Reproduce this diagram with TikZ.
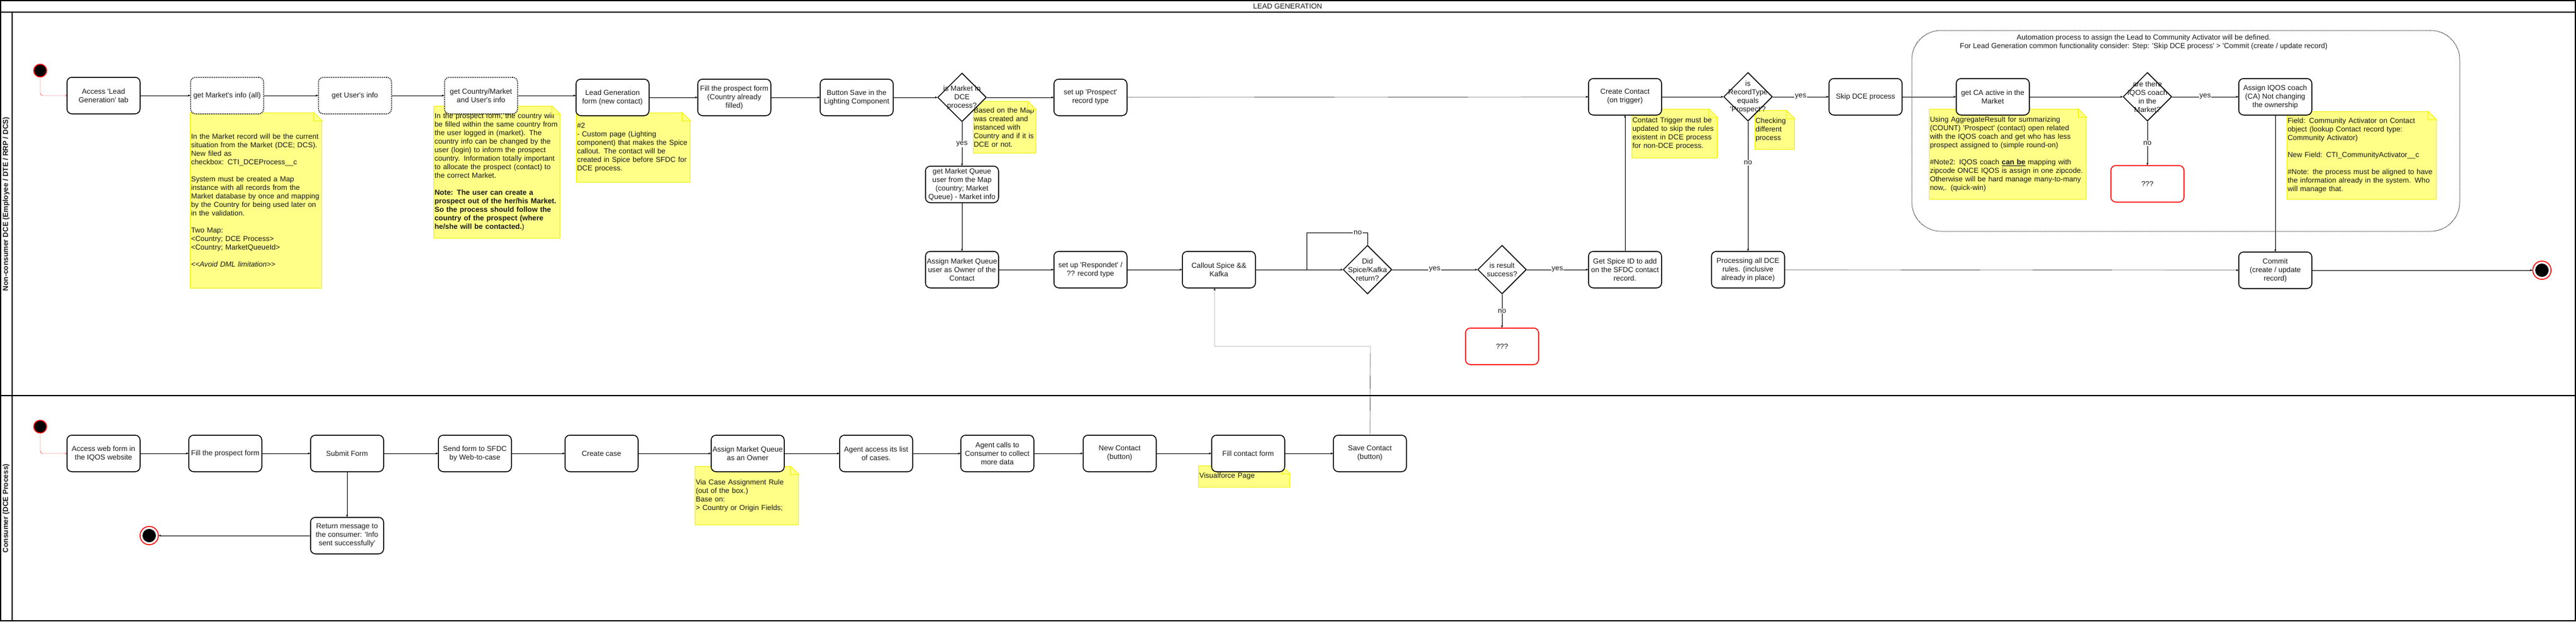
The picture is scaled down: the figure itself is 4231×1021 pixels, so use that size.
\documentclass[tikz,border=0pt]{standalone}
\usepackage{fontspec}
\setmainfont{Liberation Sans}
\newfontfamily\drawfont{Liberation Sans}
\usetikzlibrary{arrows,shapes.geometric,positioning}
\pgfdeclarelayer{background}
\pgfsetlayers{background,main}
\definecolor{notefill}{HTML}{FFFF88}
\definecolor{notebd}{HTML}{F0F000}
\newcommand{\dogear}[1]{%
  \fill[white] ([xshift=1pt,yshift=1pt]#1.north east) -- ++(-16pt,0pt) -- ++(16pt,-16pt) -- cycle;
  \draw[-,line width=1pt,draw=notebd,fill=notefill] ([xshift=-14pt]#1.north east) -- ++(0pt,-14pt) -- ++(14pt,0pt) -- cycle;
}

\begin{document}
\begin{tikzpicture}[x=1pt,y=-1pt,->,>=stealth',line width=1.5pt,node distance=205pt]
  \tikzstyle{every node}=[font=\drawfont\fontsize{12}{14}\selectfont,text=black!90]
  \tikzstyle{act}=[rectangle,rounded corners=8pt,draw=black,fill=white,minimum width=120pt,minimum height=60pt,inner sep=2pt,align=center]
  \tikzstyle{actdot}=[act,dash pattern=on 1.5pt off 1.5pt]
  \tikzstyle{unknown}=[act,draw=red]
  \tikzstyle{choice}=[diamond,draw=black,fill=white,minimum size=80pt,inner sep=0pt,aspect=1]
  \tikzstyle{memo}=[rectangle,draw=notebd,line width=1pt,fill=notefill,align=left,anchor=north west,inner xsep=1pt,inner ysep=0pt]
  \tikzstyle{startpt}=[circle,draw=red,fill=black,minimum size=21pt,inner sep=0pt]
  \tikzstyle{endpt}=[circle,draw=red,fill=white,minimum size=30pt,inner sep=0pt,path picture={\fill[black] (path picture bounding box.center) circle (11pt);}]
  \tikzstyle{cond}=[fill=white,inner sep=1pt]
  \tikzstyle{lanelabel}=[rotate=90,font=\drawfont\bfseries\fontsize{12}{14}\selectfont]

  \useasboundingbox (0,0) rectangle (4231,1021);
  \draw[-,line width=1.8pt] (0.9,0.9) rectangle (4230.1,1020.1);
  \draw[-,line width=1.8pt] (0,20) -- (4231,20);
  \draw[-,line width=1.8pt] (20,20) -- (20,1021);
  \draw[-,line width=1.8pt] (0,650) -- (4231,650);

  \node (title) at (2115,10) {LEAD GENERATION};
  \node[lanelabel] (lane1) at (10,335) {Non-consumer DCE (Employee / DTE / RRP / DCS)};
  \node[lanelabel] (lane2) at (10,835) {Consumer (DCE Process)};

  \node[startpt] (init1) at (66,116) {};
  \node[act] (access) at (170,157) {Access 'Lead\\Generation' tab};
  \node[actdot] (getmkt) [right of=access, node distance=203pt] {get Market's info (all)};
  \node[actdot] (getusr) [right of=getmkt, node distance=210pt] {get User's info};
  \node[actdot] (getctry) [right of=getusr, node distance=207pt] {get Country/Market\\and User's info};
  \node[act] (leadform) at (1006,160) {Lead Generation\\form (new contact)};
  \node[act] (fillpf) [right of=leadform, node distance=200pt] {Fill the prospect form\\(Country already\\filled)};
  \node[act] (btnsave) [right of=fillpf, node distance=201pt] {Button Save in the\\Lighting Component};
  \node[choice, label={[align=center]center:is Market in\\DCE\\process?}] (isdce) [right of=btnsave, node distance=173pt] {};
  \node[act] (setpros) [right of=isdce, node distance=211pt] {set up 'Prospect'\\record type};
  \node[act] (getmq) [below of=isdce, node distance=143pt] {get Market Queue\\user from the Map\\(country; Market\\Queue) - Market info};
  \node[act] (assignmq) [below of=getmq, node distance=140pt] {Assign Market Queue\\user as Owner of the\\Contact};
  \node[act] (setresp) [right of=assignmq, node distance=211pt] {set up 'Respondet' /\\?? record type};
  \node[act] (callout) [right of=setresp, node distance=211pt] {Callout Spice \&\&\\Kafka};
  \node[choice, label={[align=center]center:Did\\Spice/Kafka\\return?}] (didret) [right of=callout, node distance=244pt] {};
  \node[choice, label={[align=center]center:is result\\success?}] (isok) [right of=didret, node distance=221pt] {};
  \node[unknown] (unk1) [below of=isok, node distance=126pt] {???};
  \node[act] (spiceid) [right of=isok, node distance=202pt] {Get Spice ID to add\\on the SFDC contact\\record.};
  \node[act] (create) [above of=spiceid, node distance=284pt] {Create Contact\\(on trigger)};
  \node[choice, label={[align=center]center:is\\RecordType\\equals\\'Prospect'?}] (isrt) [right of=create, node distance=202pt] {};
  \node[act] (skipdce) [right of=isrt, node distance=193pt] {Skip DCE process};
  \node[act] (proc) [below of=isrt, node distance=284pt] {Processing all DCE\\rules. (inclusive\\already in place)};
  \node[act] (getca) [right of=skipdce, node distance=209pt] {get CA active in the\\Market};
  \node[choice, label={[align=center]center:are there\\IQOS coach\\in the\\Market?}] (iqos) [right of=getca, node distance=254pt] {};
  \node[unknown] (unk2) [below of=iqos, node distance=143pt] {???};
  \node[act] (assigniq) [right of=iqos, node distance=210pt] {Assign IQOS coach\\(CA) Not changing\\the ownership};
  \node[act] (commit) [below of=assigniq, node distance=285pt] {Commit\\(create / update\\record)};
  \node[endpt] (fin1) [right of=commit, node distance=438pt] {};

  \node[startpt] (init2) at (66,701) {};
  \node[act] (webform) at (170,745) {Access web form in\\the IQOS website};
  \node[act] (fillpf2) [right of=webform, node distance=200pt] {Fill the prospect form};
  \node[act] (submit) [right of=fillpf2, node distance=200pt] {Submit Form};
  \node[act] (retmsg) [below of=submit, node distance=135pt] {Return message to\\the consumer: 'Info\\sent successfully'};
  \node[endpt] (fin2) [left of=retmsg, node distance=325pt] {};
  \node[act] (sendform) [right of=submit, node distance=210pt] {Send form to SFDC\\by Web-to-case};
  \node[act] (mkcase) [right of=sendform, node distance=208pt] {Create case};
  \node[act] (assignmq2) [right of=mkcase, node distance=240pt] {Assign Market Queue\\as an Owner};
  \node[act] (agentlist) [right of=assignmq2, node distance=211pt] {Agent access its list\\of cases.};
  \node[act] (agentcall) [right of=agentlist, node distance=199pt] {Agent calls to\\Consumer to collect\\more data};
  \node[act] (newcont) [right of=agentcall, node distance=201pt] {New Contact\\(button)};
  \node[act] (fillcf) [right of=newcont, node distance=211pt] {Fill contact form};
  \node[act] (savecont) [right of=fillcf, node distance=200pt] {Save Contact\\(button)};

  \node (catext) [align=center] at (3521,69) {Automation process to assign the Lead to Community Activator will be defined.\\For Lead Generation common functionality consider: Step: 'Skip DCE process' > 'Commit (create / update record)};

  \begin{pgfonlayer}{background}
    \node[draw=black,dash pattern=on 1pt off 1pt,rounded corners=48pt,line width=1pt,minimum width=900pt,minimum height=330pt,inner sep=0pt] (caarea) at (3590,215) {};
    \node[memo, text width=214pt, minimum height=288pt] (mkttip) at ([yshift=3pt]getmkt.south west) {In the Market record will be the current\\situation from the Market (DCE; DCS).\\New filed as\\checkbox: CTI\_DCEProcess\_\_c\\[14pt]System must be created a Map\\instance with all records from the\\Market database by once and mapping\\by the Country for being used later on\\in the validation.\\[14pt]Two Map:\\<Country; DCE Process>\\<Country; MarketQueueId>\\[14pt]\textit{<<Avoid DML limitation>>}};
    \dogear{mkttip}
    \node[memo, text width=205pt, minimum height=217pt] (ctrytip) at ([xshift=-17pt,yshift=14pt]getctry.south west) {In the prospect form, the country will\\be filled within the same country from\\the user logged in (market). The\\country info can be changed by the\\user (login) to inform the prospect\\country. Information totally important\\to allocate the prospect (contact) to\\the correct Market.\\[14pt]\textbf{Note: The user can create a}\\\textbf{prospect out of the her/his Market.}\\\textbf{So the process should follow the}\\\textbf{country of the prospect (where}\\\textbf{he/she will be contacted.})};
    \dogear{ctrytip}
    \node[memo, text width=185pt, minimum height=114pt] (formtip) at ([xshift=1pt,yshift=6pt]leadform.south west) {\#2\\- Custom page (Lighting\\component) that makes the Spice\\callout. The contact will be\\created in Spice before SFDC for\\DCE process.};
    \dogear{formtip}
    \node[memo, text width=101pt, minimum height=85pt] (maptip) at ([xshift=-23pt,yshift=-6pt]isdce.east) {Based on the Map\\was created and\\instanced with\\Country and if it is\\DCE or not.};
    \dogear{maptip}
    \node[memo, text width=138pt, minimum height=80pt] (trigtip) at ([xshift=-50pt,yshift=11pt]create.south east) {Contact Trigger must be\\updated to skip the rules\\existent in DCE process\\for non-DCE process.};
    \dogear{trigtip}
    \node[memo, text width=63pt, minimum height=64pt] (checktip) at ([xshift=-30pt,yshift=-22pt]isrt.east) {Checking\\different\\process};
    \dogear{checktip}
    \node[memo, text width=256pt, minimum height=148pt] (catip) at ([xshift=-44pt,yshift=11pt]getca.south west) {Using AggregateResult for summarizing\\(COUNT) 'Prospect' (contact) open related\\with the IQOS coach and get who has less\\prospect assigned to (simple round-on)\\[14pt]\#Note2: IQOS coach \underline{\textbf{can be}} mapping with\\zipcode ONCE IQOS is assign in one zipcode.\\Otherwise will be hard manage many-to-many\\now,. (quick-win)};
    \dogear{catip}
    \node[memo, text width=243pt, minimum height=144pt] (fieldtip) at ([xshift=-42pt,yshift=7pt]assigniq.south east) {Field: Community Activator on Contact\\object (lookup Contact record type:\\Community Activator)\\[14pt]New Field: CTI\_CommunityActivator\_\_c\\[14pt]\#Note: the process must be aligned to have\\the information already in the system. Who\\will manage that.};
    \dogear{fieldtip}
    \node[memo, text width=168pt, minimum height=96pt] (ruletip) at ([xshift=-26pt,yshift=10pt]assignmq2.south west) {Via Case Assignment Rule\\(out of the box.)\\Base on:\\> Country or Origin Fields;};
    \dogear{ruletip}
    \node[memo, text width=148pt, minimum height=35pt] (vftip) at ([xshift=-21pt,yshift=11pt]fillcf.south west) {Visualforce Page};
    \dogear{vftip}
  \end{pgfonlayer}

  \draw[red,-to,rounded corners=4pt] (init1) |- (access);
  \path (access) edge (getmkt)
    (getmkt) edge (getusr)
    (getusr) edge (getctry)
    (leadform) edge (fillpf)
    (fillpf) edge (btnsave)
    (btnsave) edge (isdce)
    (isdce) edge (setpros)
    (setpros) edge (create)
    (isdce) edge node[cond]{yes} (getmq)
    (getmq) edge (assignmq)
    (assignmq) edge (setresp)
    (setresp) edge (callout)
    (callout) edge (didret)
    (didret) edge node[cond]{yes} (isok)
    (isok) edge node[cond]{yes} (spiceid)
    (isok) edge node[cond]{no} (unk1)
    (spiceid) edge (create)
    (create) edge (isrt)
    (isrt) edge node[cond]{yes} (skipdce)
    (isrt) edge node[cond,pos=0.32]{no} (proc)
    (skipdce) edge (getca)
    (getca) edge (iqos)
    (iqos) edge node[cond]{yes} (assigniq)
    (iqos) edge node[cond]{no} (unk2)
    (assigniq) edge (commit)
    (proc) edge (commit)
    (commit) edge (fin1);
  \draw (getctry) -- (getctry -| leadform.west);
  \coordinate (retry) at (2146,444);
  \draw[-] (didret.north) -- ++(0pt,20pt) -| (retry) node[cond,pos=0.08]{no};

  \draw[red,-to,rounded corners=4pt] (init2) |- (webform);
  \path (webform) edge (fillpf2)
    (fillpf2) edge (submit)
    (submit) edge (sendform)
    (submit) edge (retmsg)
    (retmsg) edge (fin2)
    (sendform) edge (mkcase)
    (mkcase) edge (assignmq2)
    (assignmq2) edge (agentlist)
    (agentlist) edge (agentcall)
    (agentcall) edge (newcont)
    (newcont) edge (fillcf)
    (fillcf) edge (savecont);
  \coordinate (backup) at (2251,569);
  \draw (savecont.north) -- (backup) -| ([xshift=-7pt]callout.south);
\end{tikzpicture}
\end{document}
